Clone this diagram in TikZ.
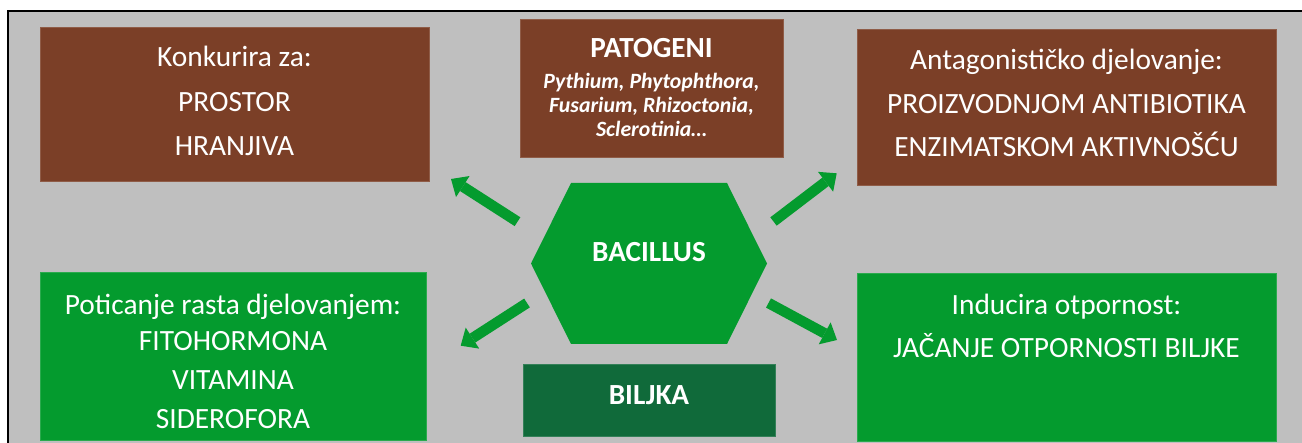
\documentclass[tikz,border=0pt]{standalone}
\usepackage{fontspec}
\setmainfont{Carlito}
\usetikzlibrary{arrows.meta}
\definecolor{bg}{HTML}{BFBFBF}
\definecolor{brn}{HTML}{7B3F27}
\definecolor{grn}{HTML}{049B2E}
\definecolor{dgrn}{HTML}{106A3A}
\tikzset{
  box/.style={rectangle, inner sep=0pt, outer sep=0pt, line width=0.8pt},
  brownbox/.style={box, fill=brn, draw=brn!85!white},
  greenbox/.style={box, fill=grn, draw=grn!85!white},
  darkbox/.style={box, fill=dgrn, draw=dgrn!85!white},
  txt/.style={text=white, inner sep=0pt, anchor=base, font=\fontsize{29.4}{30}\selectfont},
  btxt/.style={txt, font=\fontsize{29.2}{30}\selectfont\bfseries},
  itxt/.style={txt, font=\fontsize{21.8}{24}\selectfont\bfseries\itshape},
  arr/.style={draw=grn, line width=10.5pt, -{Triangle[width=25pt,length=14pt,line width'=0pt]}}
}
\begin{document}
\begin{tikzpicture}[x=1pt,y=-1pt]
\useasboundingbox (0,0) rectangle (1302,443);
\clip (0,0) rectangle (1302,443);
\fill[white] (0,0) rectangle (1302,443);
\draw[line width=2.5pt, fill=bg] (8,11) rectangle (1330,470);

% boxes
\node[brownbox, minimum width=389pt, minimum height=154pt] (tl) at (234.5,104) {};
\node[brownbox, minimum width=263pt, minimum height=138pt] (pat) at (651.5,88) {};
\node[brownbox, minimum width=419pt, minimum height=156pt] (tr) at (1066.5,107) {};
\node[greenbox, minimum width=386pt, minimum height=168pt] (bl) at (233,356) {};
\node[greenbox, minimum width=419pt, minimum height=168pt] (br) at (1066.5,357) {};
\node[darkbox, minimum width=252pt, minimum height=72pt] (bil) at (649,400) {};

% hexagon
\fill[grn] (571,183) -- (727,183) -- (767,263.5) -- (727,344) -- (571,344) -- (531,263.5) -- cycle;

% texts
\node[txt] (tl1) at (234.5,66.7) {Konkurira za:};
\node[txt] (tl2) at (234.5,111.7) {PROSTOR};
\node[txt] (tl3) at (234.5,155.7) {HRANJIVA};

\node[btxt] (pat1) at (651.5,58) {PATOGENI};
\node[itxt] (pat2) at (651.5,89) {Pythium, Phytophthora,};
\node[itxt] (pat3) at (651.5,113) {Fusarium, Rhizoctonia,};
\node[itxt] (pat4) at (651.5,137) {Sclerotinia…};

\node[txt] (tr1) at (1066.5,70) {Antagonističko djelovanje:};
\node[txt] (tr2) at (1066.5,113.3) {PROIZVODNJOM ANTIBIOTIKA};
\node[txt] (tr3) at (1066.5,156.7) {ENZIMATSKOM AKTIVNOŠĆU};

\node[txt] (bl1) at (233,314.3) {Poticanje rasta djelovanjem:};
\node[txt] (bl2) at (233,351) {FITOHORMONA};
\node[txt] (bl3) at (233,389.5) {VITAMINA};
\node[txt] (bl4) at (233,428.3) {SIDEROFORA};

\node[txt] (br1) at (1066.5,314.3) {Inducira otpornost:};
\node[txt] (br2) at (1066.5,357.7) {JAČANJE OTPORNOSTI BILJKE};

\node[btxt] (bac) at (649,261.7) {BACILLUS};
\node[btxt] (bilt) at (649,405) {BILJKA};

% arrows
\coordinate (a1s) at (517.5,221.7);
\coordinate (a1e) at (451,179);
\coordinate (a2s) at (527,303);
\coordinate (a2e) at (460.7,345.7);
\coordinate (a3s) at (773.5,221.5);
\coordinate (a3e) at (836.7,173.3);
\coordinate (a4s) at (768.5,303);
\coordinate (a4e) at (837,340);
\draw[arr] (a1s) -- (a1e);
\draw[arr] (a2s) -- (a2e);
\draw[arr] (a3s) -- (a3e);
\draw[arr] (a4s) -- (a4e);
\end{tikzpicture}
\end{document}
